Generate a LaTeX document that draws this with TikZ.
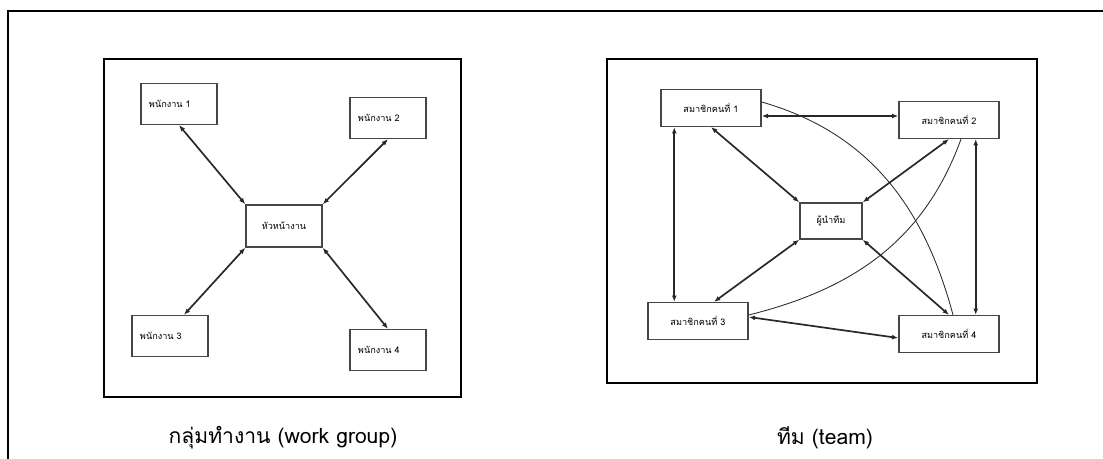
\documentclass[tikz,border=0pt]{standalone}
\usepackage{fontspec}
\setmainfont[Script=Thai]{Loma}
\usetikzlibrary{arrows.meta,positioning}
\definecolor{BoxGray}{RGB}{70,70,70}
\definecolor{LineGray}{RGB}{40,40,40}
\tikzset{
  staffbox/.style={draw=BoxGray,line width=1pt,fill=white,
    minimum width=1.9cm,minimum height=1.02cm,text width=1.5cm,align=left,
    font=\fontsize{6.5}{8}\selectfont},
  memberbox/.style={draw=BoxGray,line width=1pt,fill=white,
    minimum width=2.5cm,minimum height=0.92cm,align=center,
    font=\fontsize{6.5}{8}\selectfont},
  hubbox/.style={draw=BoxGray,line width=1pt,fill=white,
    minimum width=1.9cm,minimum height=1.05cm,align=center,
    font=\fontsize{6.5}{8}\selectfont},
  link/.style={{Latex[length=4.5pt,width=3.5pt]}-{Latex[length=4.5pt,width=3.5pt]},
    line width=1.2pt,LineGray},
  curvelink/.style={line width=0.6pt,LineGray},
  panel/.style={draw=black,line width=1.3pt},
  caption/.style={font=\fontsize{15}{17}\selectfont}
}
\begin{document}
\begin{tikzpicture}[x=0.025cm,y=-0.025cm]
  \useasboundingbox (0,0) rectangle (1103,459);
  % frame
  \draw[line width=1.3pt] (8,459) -- (8,11) -- (1103,11);
  \draw[panel] (104,59) rectangle (461,397);
  \draw[panel] (607,59) rectangle (1037,383);
  % work group
  \node[staffbox] (w1) at (179,104) {พนักงาน 1};
  \node[staffbox] (w2) at (388,118) {พนักงาน 2};
  \node[staffbox] (w3) at (170,336) {พนักงาน 3};
  \node[staffbox] (w4) at (388,350) {พนักงาน 4};
  \node[hubbox] (hub) at (284,226) {หัวหน้างาน};
  \draw[link] (w1.south) -- (hub.north west);
  \draw[link] (w2.south) -- (hub.north east);
  \draw[link] ([xshift=3.5mm]w3.north) -- (hub.south west);
  \draw[link] (w4.north) -- (hub.south east);
  % team
  \node[memberbox] (m1) at (711,108) {สมาชิกคนที่ 1};
  \node[memberbox] (m2) at (949,120) {สมาชิกคนที่ 2};
  \node[memberbox] (m3) at (698,321) {สมาชิกคนที่ 3};
  \node[memberbox] (m4) at (949,334) {สมาชิกคนที่ 4};
  \node[memberbox,minimum width=1.55cm,minimum height=0.9cm] (lead) at (831,221) {ผู้นำทีม};
  \draw[link] ([yshift=-2mm]m1.east) -- ([yshift=-2mm]m1.east -| m2.west);
  \draw[link] ([xshift=3.5mm]m1.south west) -- ([xshift=3.5mm]m1.south west |- m3.north);
  \draw[link] ([xshift=-6mm]m2.south east) -- ([xshift=-6mm]m2.south east |- m4.north);
  \draw[link] (m1.south) -- (lead.north west);
  \draw[link] (m2.south) -- (lead.north east);
  \draw[link] ([xshift=4mm]m3.north) -- (lead.south west);
  \draw[link] (m4.north) -- (lead.south east);
  \draw[link] ([yshift=1mm]m3.east) -- ([yshift=-1mm]m4.west);
  \draw[curvelink] ([yshift=1.5mm]m1.east) to[out=-16,in=105] ([xshift=1mm]m4.north);
  \draw[curvelink] ([xshift=3mm]m2.south) to[out=-110,in=14] ([yshift=1.5mm]m3.east);
  % captions
  \node[caption] (cap1) at (283,438) {กลุ่มทำงาน (work group)};
  \node[caption] (cap2) at (825,438) {ทีม (team)};
\end{tikzpicture}
\end{document}
